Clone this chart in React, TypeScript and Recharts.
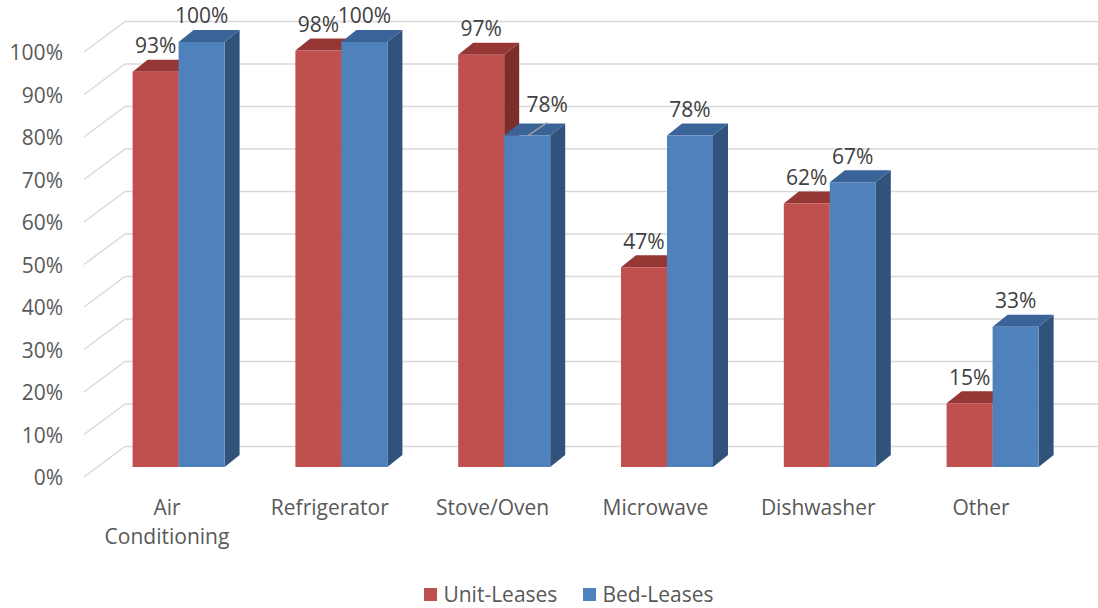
import { Bar, BarChart, CartesianGrid, LabelList, Legend, XAxis, YAxis } from "recharts";

const categories = ["Air Conditioning", "Refrigerator", "Stove/Oven", "Microwave", "Dishwasher", "Other"];
const unitLeases = [93, 98, 97, 47, 62, 15];
const bedLeases = [100, 100, 78, 78, 67, 33];
const yTicks = [0, 10, 20, 30, 40, 50, 60, 70, 80, 90, 100];

const data = categories.map((name, i) => ({
  name,
  unit: unitLeases[i],
  bed: bedLeases[i],
}));

const FONT = "'Open Sans', 'Liberation Sans', sans-serif";
const FS = 21;
const DEPTH_X = 15;
const DEPTH_Y = 12;

const colors = {
  unit: { front: "#C0504D", top: "#943735", side: "#7D2E2C" },
  bed: { front: "#4F81BD", top: "#3A6497", side: "#30527B" },
};

function Box3D(props: any) {
  const { x, y, width, height, palette } = props;
  if (width == null || height == null) return null;
  const r = x + width;
  const b = y + height;
  return (
    <g>
      <polygon
        points={`${r},${y} ${r + DEPTH_X},${y - DEPTH_Y} ${r + DEPTH_X},${b - DEPTH_Y} ${r},${b}`}
        fill={palette.side}
      />
      <polygon
        points={`${x},${y} ${x + DEPTH_X},${y - DEPTH_Y} ${r + DEPTH_X},${y - DEPTH_Y} ${r},${y}`}
        fill={palette.top}
      />
      <rect x={x} y={y} width={width} height={height} fill={palette.front} />
    </g>
  );
}

// back wall lines plus the slanted floor/side lines on the left
function GridLine(props: any) {
  const { y1, x2 } = props;
  return (
    <g>
      <line x1={84} y1={y1 + 10} x2={125} y2={y1 - 20.5} stroke="#D9D9D9" strokeWidth={1.5} />
      <line x1={125} y1={y1 - 20.5} x2={x2 + 30} y2={y1 - 20.5} stroke="#D9D9D9" strokeWidth={1.5} />
    </g>
  );
}

function YTick(props: any) {
  const { y, payload } = props;
  return (
    <text x={63} y={y + 11} dy="0.35em" textAnchor="end" fontSize={FS} fill="#595959" fontFamily={FONT}>
      {`${payload.value}%`}
    </text>
  );
}

function XTick(props: any) {
  const { x, y, payload } = props;
  const lines = String(payload.value).split(" ");
  return (
    <g>
      {lines.map((line, i) => (
        <text
          key={i}
          x={x - 12}
          y={y + 41 + i * 29}
          dy="0.35em"
          textAnchor="middle"
          fontSize={FS}
          fill="#595959"
          fontFamily={FONT}
        >
          {line}
        </text>
      ))}
    </g>
  );
}

function ValueLabel(props: any) {
  const { x, y, width, value, index, series } = props;
  const cx = x + width / 2;
  // Excel moved the Stove/Oven bed-lease label aside with a leader line
  const moved = series === "bed" && categories[index] === "Stove/Oven";
  if (moved) {
    return (
      <g>
        <line x1={cx + 1} y1={y} x2={cx + 20} y2={y - 13} stroke="#A6A6A6" strokeWidth={1.5} />
        <text x={cx + 20} y={y - 31} dy="0.35em" textAnchor="middle" fontSize={FS} fill="#404040" fontFamily={FONT}>
          {`${value}%`}
        </text>
      </g>
    );
  }
  return (
    <text x={cx} y={y - 26} dy="0.35em" textAnchor="middle" fontSize={FS} fill="#404040" fontFamily={FONT}>
      {`${value}%`}
    </text>
  );
}

function LegendContent() {
  const items = [
    { label: "Unit-Leases", color: colors.unit.front },
    { label: "Bed-Leases", color: colors.bed.front },
  ];
  return (
    <div style={{ display: "flex", justifyContent: "center", alignItems: "center", fontFamily: FONT }}>
      {items.map((it) => (
        <div key={it.label} style={{ display: "flex", alignItems: "center", margin: "0 13px" }}>
          <span style={{ width: 13, height: 13, background: it.color, marginRight: 6, display: "inline-block" }} />
          <span style={{ fontSize: FS, color: "#595959" }}>{it.label}</span>
        </div>
      ))}
    </div>
  );
}

export default function App() {
  return (
    <div style={{ width: 1098, height: 608, background: "#fff" }}>
      <style>{"body{margin:0}"}</style>
      <BarChart
        width={1098}
        height={608}
        data={data}
        margin={{ top: 42, right: 23.6, left: 0, bottom: 51 }}
        barCategoryGap={35}
        barGap={0}
      >
        <CartesianGrid vertical={false} horizontal={(p: any) => <GridLine key={p.key} {...p} />} />
        <XAxis
          dataKey="name"
          height={60}
          axisLine={false}
          tickLine={false}
          tickSize={0}
          tickMargin={0}
          interval={0}
          tick={<XTick />}
        />
        <YAxis
          width={97.6}
          domain={[0, 100]}
          ticks={yTicks}
          interval={0}
          axisLine={false}
          tickLine={false}
          tick={<YTick />}
        />
        <Legend
          content={<LegendContent />}
          verticalAlign="bottom"
          wrapperStyle={{ top: 580, left: 20, width: 1098, height: 30, bottom: "auto" }}
        />
        <Bar
          dataKey="unit"
          name="Unit-Leases"
          isAnimationActive={false}
          shape={(p: any) => <Box3D {...p} palette={colors.unit} />}
        >
          <LabelList dataKey="unit" content={(p: any) => <ValueLabel {...p} series="unit" />} />
        </Bar>
        <Bar
          dataKey="bed"
          name="Bed-Leases"
          isAnimationActive={false}
          shape={(p: any) => <Box3D {...p} palette={colors.bed} />}
        >
          <LabelList dataKey="bed" content={(p: any) => <ValueLabel {...p} series="bed" />} />
        </Bar>
      </BarChart>
    </div>
  );
}
